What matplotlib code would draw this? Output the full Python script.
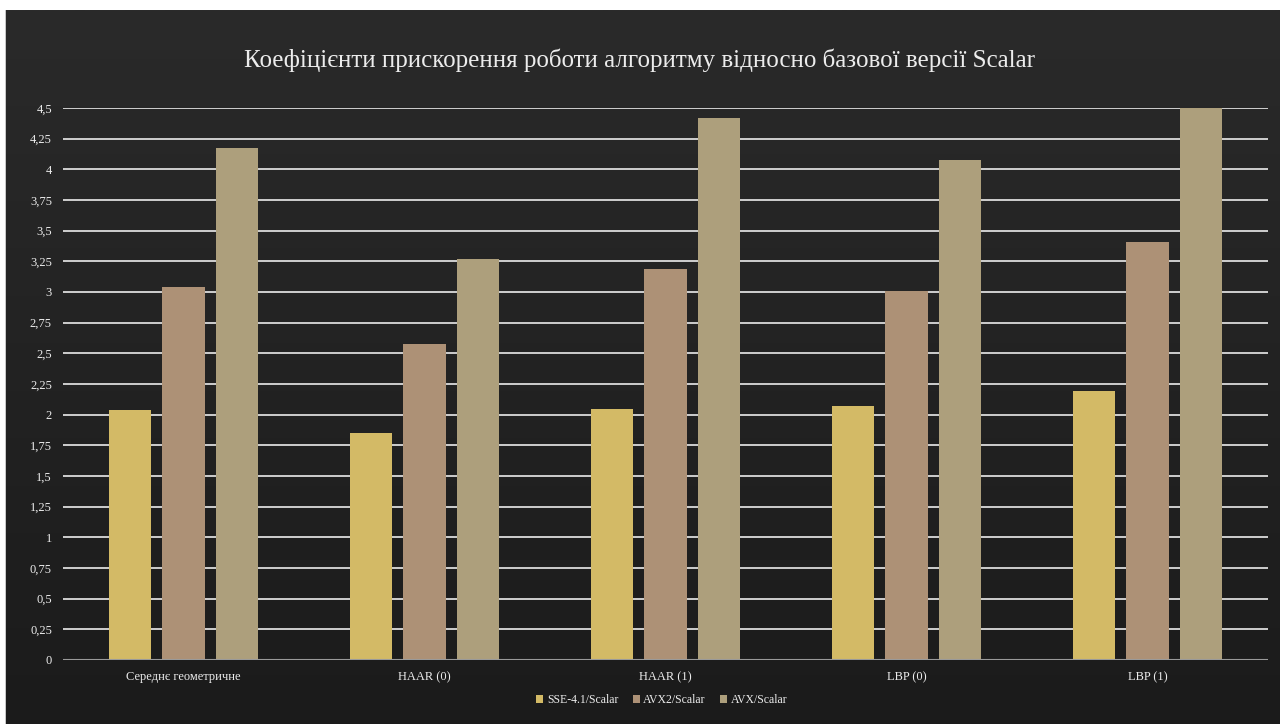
import numpy as np
import matplotlib.pyplot as plt
from matplotlib.patches import Rectangle

# --------- data ---------
categories = ["Середнє геометричне", "HAAR (0)", "HAAR (1)", "LBP (0)", "LBP (1)"]
series_names = ["SSE-4.1/Scalar", "AVX2/Scalar", "AVX/Scalar"]
sse = [2.04, 1.85, 2.05, 2.07, 2.19]
avx2 = [3.04, 2.58, 3.19, 3.01, 3.41]
avx = [4.17, 3.27, 4.42, 4.08, 4.50]
ytick_vals = [i * 0.25 for i in range(19)]
ytick_labels = ["0", "0,25", "0,5", "0,75", "1", "1,25", "1,5", "1,75", "2", "2,25",
                "2,5", "2,75", "3", "3,25", "3,5", "3,75", "4", "4,25", "4,5"]

colors = ["#d3ba66", "#ad9176", "#ad9f7c"]
text_color = "#ececec"
serif = ["Liberation Serif", "DejaVu Serif"]

# --------- figure ---------
W, H = 1280, 724
fig = plt.figure(figsize=(W / 100, H / 100), dpi=100, facecolor="white")

# dark slide background (slight vertical gradient)
bg = fig.add_axes([6 / W, 0, 1 - 6 / W, 1 - 10 / H])
grad = np.linspace(0, 1, 256).reshape(-1, 1)
bg.imshow(grad, aspect="auto", cmap=plt.matplotlib.colors.LinearSegmentedColormap.from_list(
    "bg", ["#2a2a2a", "#1b1b1b"]), extent=[0, 1, 0, 1], origin="upper")
bg.set_axis_off()
fig.add_artist(Rectangle((5 / W, 0), 1 / W, 1 - 10 / H, transform=fig.transFigure,
                         color="#c8c8c8", lw=0))

ax = fig.add_axes([63 / W, 1 - 660 / H, (1268 - 63) / W, (660 - 108) / H])
ax.set_facecolor("none")

x = np.arange(len(categories))
width = 0.175
offset = 0.222
for i, (vals, name) in enumerate(zip([sse, avx2, avx], series_names)):
    ax.bar(x + (i - 1) * offset, vals, width, color=colors[i], label=name, zorder=3)

ax.set_xlim(-0.5, len(categories) - 0.5)
ax.set_ylim(0, 4.5)
ax.set_yticks(ytick_vals)
ax.set_yticklabels(ytick_labels, family=serif, fontsize=9, color=text_color)
ax.set_xticks(x)
ax.set_xticklabels(categories, family=serif, fontsize=9, color=text_color)
ax.tick_params(length=0, pad=8)
ax.tick_params(axis="x", pad=8)

for v in ytick_vals[1:]:
    ax.axhline(v, color="#dcdcdc", lw=1.3, zorder=1)
ax.axhline(0, color="#9a9a9a", lw=1.5, zorder=4)
for s in ax.spines.values():
    s.set_visible(False)

fig.text(0.5, 1 - 60 / H,
         "Коефіцієнти прискорення роботи алгоритму відносно базової версії Scalar",
         ha="center", va="center", family=serif, fontsize=18, color=text_color)

leg = fig.legend(loc="center", bbox_to_anchor=(0.517, 1 - 700 / H), ncol=3, frameon=False,
                 prop={"family": serif, "size": 8.5}, handlelength=0.6, handleheight=0.6,
                 handletextpad=0.3, columnspacing=1.2)
for t in leg.get_texts():
    t.set_color(text_color)

fig.savefig("out.png", dpi=100, facecolor=fig.get_facecolor())
